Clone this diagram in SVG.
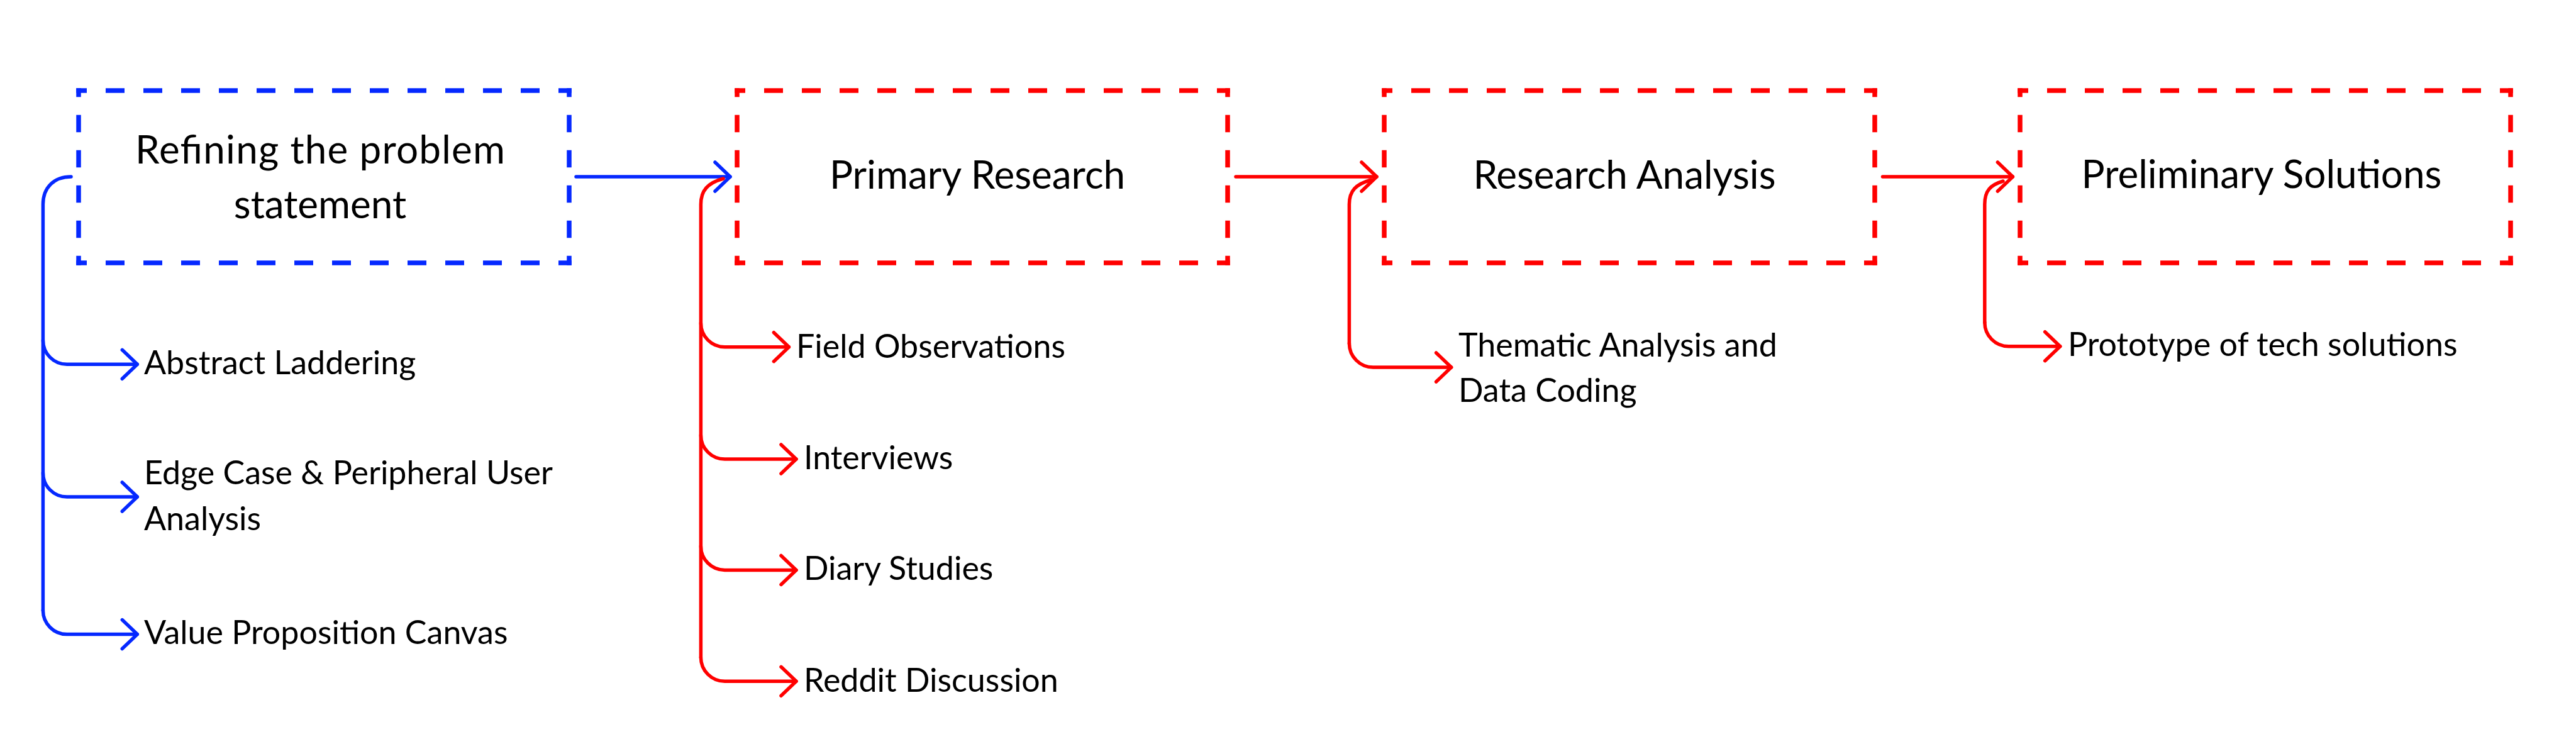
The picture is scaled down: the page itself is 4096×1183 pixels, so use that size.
<svg xmlns="http://www.w3.org/2000/svg" width="4096" height="1183" viewBox="0 0 4096 1183">
<style>
.bx line{stroke-width:7.5;fill:none}
.blue line{stroke:#0528FF}
.red line{stroke:#FF0000}
.h{stroke-dasharray:30 30;stroke-dashoffset:13.25}
.v{stroke-dasharray:27.5 28.5;stroke-dashoffset:13.45}
.title{font-family:Lato,"Noto Sans",sans-serif;font-size:62px;fill:#000;text-anchor:middle}
.sub{font-family:Lato,"Noto Sans",sans-serif;font-size:52px;fill:#000}
.cb{fill:none;stroke:#0528FF;stroke-width:5.5;stroke-linecap:round;stroke-linejoin:round}
.cr{fill:none;stroke:#FF0000;stroke-width:5.5;stroke-linecap:round;stroke-linejoin:round}
</style>
<defs>
<marker id="ab" markerUnits="userSpaceOnUse" markerWidth="60" markerHeight="60" viewBox="-30 -30 60 60" refX="0" refY="0" orient="auto" overflow="visible"><path d="M-24,-23 L0,0 L-24,23" fill="none" stroke="#0528FF" stroke-width="5.5" stroke-linecap="round" stroke-linejoin="round"/></marker>
<marker id="ar" markerUnits="userSpaceOnUse" markerWidth="60" markerHeight="60" viewBox="-30 -30 60 60" refX="0" refY="0" orient="auto" overflow="visible"><path d="M-24,-23 L0,0 L-24,23" fill="none" stroke="#FF0000" stroke-width="5.5" stroke-linecap="round" stroke-linejoin="round"/></marker>
</defs>
<rect width="4096" height="1183" fill="#fff"/>

<g id="node-refining" class="bx blue">
<line class="h" x1="121.25" y1="144" x2="908.75" y2="144"/>
<line class="h" x1="121.25" y1="418" x2="908.75" y2="418"/>
<line class="v" x1="125" y1="140.25" x2="125" y2="421.75"/>
<line class="v" x1="905" y1="140.25" x2="905" y2="421.75"/>
<text class="title" x="509" y="260" textLength="588">Refining the problem</text>
<text class="title" x="509" y="347">statement</text>
</g>

<g id="node-primary" class="bx red">
<line class="h" x1="1168.25" y1="144" x2="1955.75" y2="144"/>
<line class="h" x1="1168.25" y1="418" x2="1955.75" y2="418"/>
<line class="v" x1="1172" y1="140.25" x2="1172" y2="421.75"/>
<line class="v" x1="1952" y1="140.25" x2="1952" y2="421.75"/>
<text class="title" x="1554" y="300">Primary Research</text>
</g>

<g id="node-analysis" class="bx red">
<line class="h" x1="2197.25" y1="144" x2="2984.75" y2="144"/>
<line class="h" x1="2197.25" y1="418" x2="2984.75" y2="418"/>
<line class="v" x1="2201" y1="140.25" x2="2201" y2="421.75"/>
<line class="v" x1="2981" y1="140.25" x2="2981" y2="421.75"/>
<text class="title" x="2583" y="300">Research Analysis</text>
</g>

<g id="node-solutions" class="bx red">
<line class="h" x1="3208.25" y1="144" x2="3995.75" y2="144"/>
<line class="h" x1="3208.25" y1="418" x2="3995.75" y2="418"/>
<line class="v" x1="3212" y1="140.25" x2="3212" y2="421.75"/>
<line class="v" x1="3992" y1="140.25" x2="3992" y2="421.75"/>
<text class="title" x="3596" y="299">Preliminary Solutions</text>
</g>

<g id="node-abstract"><text class="sub" x="229" y="595">Abstract Laddering</text></g>
<g id="node-edgecase"><text class="sub" x="229" y="770">Edge Case &amp; Peripheral User</text><text class="sub" x="229" y="843">Analysis</text></g>
<g id="node-valueprop"><text class="sub" x="229" y="1024">Value Proposition Canvas</text></g>
<g id="node-field"><text class="sub" x="1266" y="569">Field Observations</text></g>
<g id="node-interviews"><text class="sub" x="1278" y="746">Interviews</text></g>
<g id="node-diary"><text class="sub" x="1278" y="922">Diary Studies</text></g>
<g id="node-reddit"><text class="sub" x="1278" y="1100">Reddit Discussion</text></g>
<g id="node-thematic"><text class="sub" x="2319" y="567">Thematic Analysis and</text><text class="sub" x="2319" y="639">Data Coding</text></g>
<g id="node-prototype"><text class="sub" x="3288" y="566">Prototype of tech solutions</text></g>

<g id="connectors">
<path class="cb" d="M916 281 H1161" stroke-width="6" marker-end="url(#ab)"/>
<path class="cb" d="M113 281 C86 281 68.4 298 68.4 325 V970.6"/>
<path class="cb" d="M68.4 541.3 A38 38 0 0 0 106.4 579.3 H218.3" marker-end="url(#ab)"/>
<path class="cb" d="M68.4 752 A38 38 0 0 0 106.4 790 H218.3" marker-end="url(#ab)"/>
<path class="cb" d="M68.4 970.6 A38 38 0 0 0 106.4 1008.6 H218.3" marker-end="url(#ab)"/>

<path class="cr" d="M1150 284 C1125 291 1114.4 303 1114.4 325 V1045.3"/>
<path class="cr" d="M1114.4 513.7 A38 38 0 0 0 1152.4 551.7 H1254.4" marker-end="url(#ar)"/>
<path class="cr" d="M1114.4 692 A38 38 0 0 0 1152.4 730 H1266" marker-end="url(#ar)"/>
<path class="cr" d="M1114.4 868.4 A38 38 0 0 0 1152.4 906.4 H1266" marker-end="url(#ar)"/>
<path class="cr" d="M1114.4 1045.3 A38 38 0 0 0 1152.4 1083.3 H1266" marker-end="url(#ar)"/>

<path class="cr" d="M1965 281 H2189" marker-end="url(#ar)"/>
<path class="cr" d="M2180 286 C2156 293 2145.4 303 2145.4 325 V546"/>
<path class="cr" d="M2145.4 546 A38 38 0 0 0 2183.4 584 H2307.6" marker-end="url(#ar)"/>

<path class="cr" d="M2993.5 281 H3200.4" marker-end="url(#ar)"/>
<path class="cr" d="M3185 288 C3165 294 3155.8 303 3155.8 325 V512.7"/>
<path class="cr" d="M3155.8 512.7 A38 38 0 0 0 3193.8 550.7 H3275.7" marker-end="url(#ar)"/>
</g>
</svg>
